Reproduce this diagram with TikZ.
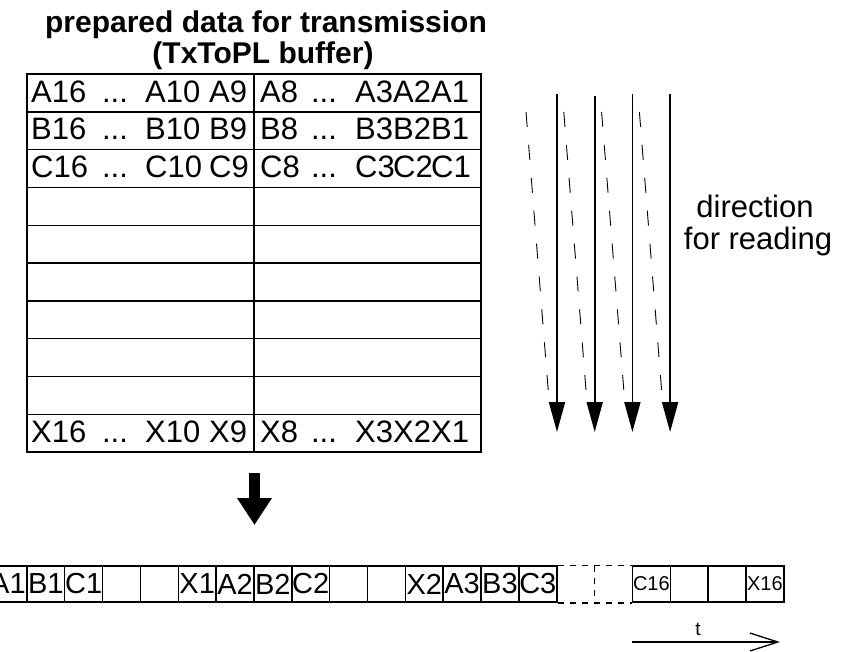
\documentclass[tikz,border=0pt]{standalone}
\usepackage{fontspec}
\setmainfont{Liberation Sans}
\usetikzlibrary{arrows.meta}
\tikzset{
 tok/.style={font=\fontsize{31}{36}\selectfont,inner sep=0pt,anchor=base west},
 slot/.style={draw,line width=1.5pt,minimum width=37.85pt,minimum height=36pt,
  inner sep=0pt,font=\fontsize{29}{34}\selectfont},
 smallslot/.style={slot,font=\fontsize{20}{24}\selectfont},
 readarrow/.style={line width=1.8pt,-{Triangle[length=30pt,width=16pt]}},
 readpath/.style={line width=.9pt,dash pattern=on 15pt off 18pt},
}

\begin{document}
\begin{tikzpicture}[x=1pt,y=-1pt]
 \useasboundingbox (0,0) rectangle (845,651);
 \clip (0,0) rectangle (845,651);

 % heading
 \node[font=\bfseries\fontsize{30}{36}\selectfont,anchor=base,inner sep=0pt]
  (title1) at (266,32) {prepared data for transmission};
 \node[font=\bfseries\fontsize{30}{36}\selectfont,anchor=base,inner sep=0pt]
  (title2) at (263,63) {(TxToPL buffer)};

 % the buffer, ten rows of two bytes
 \draw[line width=1.4pt] (27,74) rectangle (481,452);
 \draw[line width=1.4pt] (254,74)--(254,452);
 \foreach \k in {1,...,9}
  \draw[line width=1.4pt] (27,{74+37.8*\k})--(481,{74+37.8*\k});
 \foreach \r/\b in {0/A,1/B,2/C,9/X}{
  \pgfmathsetmacro{\yb}{102+37.8*\r}
  \node[tok] (\b16) at (31,\yb) {\b16};
  \node[tok,anchor=base] (\b dl) at (115,\yb) {...};
  \node[tok] (\b10) at (145,\yb) {\b10};
  \node[tok] (\b9) at (209,\yb) {\b9};
  \node[tok] (\b8) at (260,\yb) {\b8};
  \node[tok,anchor=base] (\b dr) at (324,\yb) {...};
  \node[tok] (\b3) at (355,\yb) {\b3};
  \node[tok] (\b2) at (393,\yb) {\b2};
  \node[tok] (\b1) at (431,\yb) {\b1};
 }

 % reading order, column by column
 \foreach \k/\top in {0/94,1/96,2/94,3/94}{
  \coordinate (rd\k a) at ({526+37.8*\k},112);
  \coordinate (rd\k b) at ({549+37.8*\k},400);
  \coordinate (rs\k a) at ({557+37.7*\k},\top);
  \coordinate (rs\k b) at ({557+37.7*\k},432);
  \draw[readpath] (rd\k a)--(rd\k b);
  \draw[readarrow] (rs\k a)--(rs\k b);
 }
 \node[font=\fontsize{31}{36}\selectfont,anchor=base,inner sep=0pt]
  (dir1) at (755,217) {direction};
 \node[font=\fontsize{31}{36}\selectfont,anchor=base,inner sep=0pt]
  (dir2) at (758,249) {for reading};

 % buffer -> serial stream
 \coordinate (bigtop) at (254.5,473);
 \coordinate (bigtip) at (254.5,525);
 \draw[line width=11pt,-{Triangle[length=27pt,width=33pt]}] (bigtop)--(bigtip);

 % serial stream
 \foreach \lab [count=\i] in {A1,B1,C1,,,X1,A2,B2,C2,,,X2,A3,B3,C3}
  \node[slot] (s\i) at ({-11+37.85*(\i-0.5)},584) {\lab};
 \foreach \lab [count=\i from 18] in {C16,,,X16}
  \node[smallslot] (s\i) at ({-11+37.85*(\i-0.5)},584) {\lab};
 \coordinate (gapt) at (594.6,566);
 \coordinate (gapb) at (594.6,602);
 \draw[line width=1.5pt,dash pattern=on 6pt off 6pt] (s15.north east)--(s18.north west);
 \draw[line width=1.5pt,dash pattern=on 6pt off 6pt] (s15.south east)--(s18.south west);
 \draw[line width=1.5pt,dash pattern=on 6pt off 6pt] (gapt)--(gapb);

 % time axis
 \coordinate (t0) at (632,642);
 \coordinate (t1) at (780,642);
 \draw[line width=1.3pt,-{Straight Barb[length=28pt,width=18pt]}] (t0)--(t1);
 \node[font=\fontsize{19}{22}\selectfont,inner sep=0pt] (tlab) at (698,629) {t};
\end{tikzpicture}
\end{document}
